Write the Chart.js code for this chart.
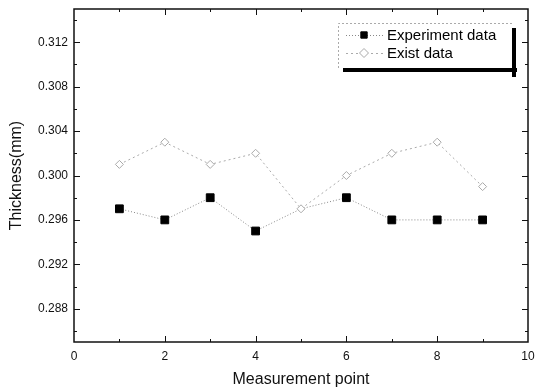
<!DOCTYPE html>
<html>
<head>
<meta charset="utf-8">
<script src="https://cdn.jsdelivr.net/npm/chart.js@4"></script>
<style>
  html,body{margin:0;padding:0;background:#fff;}
  canvas{display:block;}
</style>
</head>
<body>
<canvas id="chart" width="535" height="389"></canvas>
<script>
//--------------------------------------------------
// DATA
//--------------------------------------------------
const points = [1, 2, 3, 4, 5, 6, 7, 8, 9];
const experimentData = [0.297, 0.296, 0.298, 0.295, 0.297, 0.298, 0.296, 0.296, 0.296];
const existData = [0.301, 0.303, 0.301, 0.302, 0.297, 0.300, 0.302, 0.303, 0.299];
const seriesNames = ["Experiment data", "Exist data"];
const xTicks = [0, 2, 4, 6, 8, 10];
const xMinor = [1, 3, 5, 7, 9];
const yTicks = [0.288, 0.292, 0.296, 0.300, 0.304, 0.308, 0.312];
const yMinor = [0.286, 0.290, 0.294, 0.298, 0.302, 0.306, 0.310, 0.314];

const FONT = "'Liberation Sans', Arial, sans-serif";

//--------------------------------------------------
// FRAME + INWARD TICKS (all four sides)
//--------------------------------------------------
const frame = {
  id: "frame",
  beforeDatasetsDraw(chart){
    const {ctx, chartArea:a, scales:{x, y}} = chart;
    ctx.save();
    ctx.strokeStyle = "#111";
    ctx.lineWidth = 1.5;
    ctx.strokeRect(a.left, a.top, a.right - a.left, a.bottom - a.top);
    ctx.lineWidth = 1;
    const tickX = (vals, len) => {
      vals.forEach(v=>{
        const px = Math.round(x.getPixelForValue(v)) + 0.5;
        ctx.beginPath();
        ctx.moveTo(px, a.bottom); ctx.lineTo(px, a.bottom - len);
        ctx.moveTo(px, a.top); ctx.lineTo(px, a.top + len);
        ctx.stroke();
      });
    };
    const tickY = (vals, len) => {
      vals.forEach(v=>{
        const py = Math.round(y.getPixelForValue(v)) + 0.5;
        ctx.beginPath();
        ctx.moveTo(a.left, py); ctx.lineTo(a.left + len, py);
        ctx.moveTo(a.right, py); ctx.lineTo(a.right - len, py);
        ctx.stroke();
      });
    };
    tickX(xTicks.slice(1, -1), 6);
    tickX(xMinor, 3);
    tickY(yTicks, 6);
    tickY(yMinor, 3);
    ctx.restore();
  }
};

//--------------------------------------------------
// LEGEND BOX (top right, with shadow)
//--------------------------------------------------
const legendBox = {
  id: "legendBox",
  afterDraw(chart){
    const {ctx} = chart;
    const bx = 338, by = 23, bw = 174, bh = 45;
    ctx.save();
    ctx.fillStyle = "#000";
    ctx.fillRect(bx + 5, by + bh, bw, 4);
    ctx.fillRect(bx + bw, by + 5, 4, bh + 4);
    ctx.fillStyle = "#fff";
    ctx.fillRect(bx, by, bw, bh);
    ctx.strokeStyle = "#aaa";
    ctx.setLineDash([2, 2]);
    ctx.lineWidth = 1;
    ctx.beginPath();
    ctx.moveTo(bx + 0.5, by + bh); ctx.lineTo(bx + 0.5, by + 0.5); ctx.lineTo(bx + bw, by + 0.5);
    ctx.stroke();
    ctx.restore();

    const rows = [35, 53];
    chart.data.datasets.forEach((ds, i)=>{
      const ry = rows[i];
      ctx.save();
      ctx.strokeStyle = ds.borderColor;
      ctx.lineWidth = 1;
      ctx.setLineDash(ds.borderDash);
      ctx.beginPath();
      ctx.moveTo(346, ry + 0.5); ctx.lineTo(384, ry + 0.5);
      ctx.stroke();
      ctx.setLineDash([]);
      ctx.fillStyle = ds.pointBackgroundColor;
      ctx.strokeStyle = ds.pointBorderColor;
      ctx.lineWidth = ds.pointBorderWidth;
      Chart.helpers.drawPoint(ctx, {
        pointStyle: ds.pointStyle, radius: 4.5,
        borderWidth: ds.pointBorderWidth, rotation: 0
      }, 364, ry);
      ctx.fillStyle = "#000";
      ctx.font = "15px " + FONT;
      ctx.textBaseline = "middle";
      ctx.fillText(ds.label, 387, ry + 1);
      ctx.restore();
    });
  }
};

//--------------------------------------------------
// CHART
//--------------------------------------------------
new Chart(document.getElementById("chart"), {
  type: "line",
  data: {
    labels: points,
    datasets: [
      {
        label: seriesNames[0],
        data: points.map((p, i)=>({x:p, y:experimentData[i]})),
        borderColor: "#888",
        borderWidth: 1,
        borderDash: [1, 2],
        pointStyle: "rect",
        pointRadius: [5.5, 5.5, 5.5, 5.5, 0, 5.5, 5.5, 5.5, 5.5],
        pointBorderWidth: 1,
        pointBackgroundColor: "#000",
        pointBorderColor: "#000",
        order: 1
      },
      {
        label: seriesNames[1],
        data: points.map((p, i)=>({x:p, y:existData[i]})),
        borderColor: "#aaa",
        borderWidth: 1,
        borderDash: [2, 3],
        pointStyle: "rectRot",
        pointRadius: 4,
        pointBorderWidth: 1,
        pointBackgroundColor: "#fff",
        pointBorderColor: "#aaa",
        order: 0
      }
    ]
  },
  options: {
    responsive: false,
    animation: false,
    layout: { padding: { top: 9, right: 7, left: 0, bottom: 0 } },
    plugins: {
      legend: { display: false },
      tooltip: { enabled: false }
    },
    scales: {
      x: {
        type: "linear",
        min: 0, max: 10,
        afterBuildTicks: s => { s.ticks = xTicks.map(v=>({value:v})); },
        afterFit: s => { s.height = 47; s.paddingLeft = 0; s.paddingRight = 0; },
        grid: { display: false, drawTicks: false },
        border: { display: false },
        ticks: { color: "#111", padding: 7, maxRotation: 0, font: { size: 12, family: FONT } },
        title: { display: true, text: "Measurement point", color: "#111",
                 font: { size: 16, family: FONT }, padding: { top: 0, bottom: 0 } }
      },
      y: {
        min: 0.285, max: 0.315,
        afterBuildTicks: s => { s.ticks = yTicks.map(v=>({value:v})); },
        afterFit: s => { s.width = 74; s.paddingTop = 0; s.paddingBottom = 0; },
        grid: { display: false, drawTicks: false },
        border: { display: false },
        ticks: { color: "#111", padding: 6, font: { size: 12, family: FONT },
                 callback: v => v.toFixed(3) },
        title: { display: true, text: "Thickness(mm)", color: "#111",
                 font: { size: 16, family: FONT }, padding: { top: 7, bottom: 0 } }
      }
    }
  },
  plugins: [frame, legendBox]
});
</script>
</body>
</html>
